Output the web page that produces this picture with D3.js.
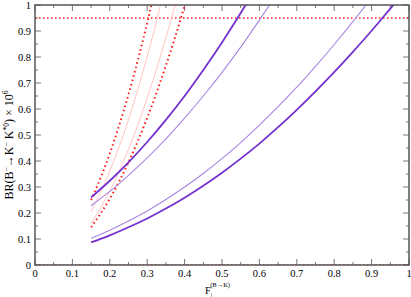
<!DOCTYPE html>
<html>
<head>
<meta charset="utf-8">
<script src="https://cdn.jsdelivr.net/npm/d3@7"></script>
<style>
  body { margin: 0; background: #fff; }
</style>
</head>
<body>
<svg width="411" height="297" font-family="'Liberation Serif', 'Times New Roman', Times, serif"></svg>
<script>
// curves: F values and BR values (x 10^6)
const fThickA = [0.15, 0.2, 0.25, 0.3, 0.35, 0.4, 0.45, 0.5, 0.55, 0.57];
const brThickA = [0.26, 0.324, 0.395, 0.473, 0.558, 0.650, 0.750, 0.856, 0.969, 1.016];

const fThinB = [0.15, 0.2, 0.25, 0.3, 0.35, 0.4, 0.45, 0.5, 0.55, 0.6, 0.64];
const brThinB = [0.228, 0.283, 0.345, 0.412, 0.485, 0.565, 0.650, 0.741, 0.838, 0.942, 1.028];

const fThickC = [0.15, 0.2, 0.25, 0.3, 0.35, 0.4, 0.45, 0.5, 0.55, 0.6, 0.65, 0.7, 0.75, 0.8, 0.85, 0.9, 0.95, 0.97];
const brThickC = [0.087, 0.114, 0.145, 0.179, 0.217, 0.259, 0.305, 0.355, 0.409, 0.467, 0.530, 0.597, 0.668, 0.742, 0.820, 0.901, 0.986, 1.02];

const fThinD = [0.15, 0.2, 0.25, 0.3, 0.35, 0.4, 0.45, 0.5, 0.55, 0.6, 0.65, 0.7, 0.75, 0.8, 0.85, 0.9];
const brThinD = [0.103, 0.134, 0.169, 0.208, 0.252, 0.300, 0.352, 0.409, 0.471, 0.538, 0.609, 0.684, 0.764, 0.848, 0.936, 1.028];

const fDotL = [0.15, 0.175, 0.2, 0.225, 0.25, 0.275, 0.3, 0.315];
const brDotL = [0.25, 0.334, 0.429, 0.537, 0.656, 0.788, 0.931, 1.023];

const fDotR = [0.15, 0.2, 0.25, 0.3, 0.35, 0.4, 0.41];
const brDotR = [0.145, 0.255, 0.395, 0.566, 0.767, 0.998, 1.049];

const fPinkL = [0.15, 0.2, 0.25, 0.3, 0.335, 0.345];
const brPinkL = [0.205, 0.361, 0.559, 0.802, 0.997, 1.057];

const fPinkR = [0.15, 0.2, 0.25, 0.3, 0.35, 0.375, 0.385];
const brPinkR = [0.16, 0.285, 0.445, 0.642, 0.874, 1.003, 1.058];

const xTicks = [0, 0.1, 0.2, 0.3, 0.4, 0.5, 0.6, 0.7, 0.8, 0.9, 1];
const yTicks = [0, 0.1, 0.2, 0.3, 0.4, 0.5, 0.6, 0.7, 0.8, 0.9, 1];
const xMinor = [0.05, 0.15, 0.25, 0.35, 0.45, 0.55, 0.65, 0.75, 0.85, 0.95];
const limitBR = [0.95, 0];

const svg = d3.select("svg"),
    margin = {left: 35, right: 2, top: 5, bottom: 32},
    width = +svg.attr("width") - margin.left - margin.right,
    height = +svg.attr("height") - margin.top - margin.bottom;

const x = d3.scaleLinear().domain([0, 1]).range([0, width]);
const y = d3.scaleLinear().domain([0, 1]).range([height, 0]);

const g = svg.append("g").attr("transform", `translate(${margin.left},${margin.top})`);

svg.append("defs").append("clipPath").attr("id", "clip")
    .append("rect").attr("width", width).attr("height", height);

const fmt = d => d === 0 || d === 1 ? String(d) : d3.format(".1f")(d);

// ticks on all four sides, pointing inward
const tickCol = "#777";
function drawTicks(vals, len) {
    g.append("g").selectAll("line").data(vals).join("line")
        .attr("x1", d => x(d)).attr("x2", d => x(d))
        .attr("y1", height).attr("y2", height - len)
        .attr("stroke", tickCol);
    g.append("g").selectAll("line").data(vals).join("line")
        .attr("x1", d => x(d)).attr("x2", d => x(d))
        .attr("y1", 0).attr("y2", len)
        .attr("stroke", tickCol);
    g.append("g").selectAll("line").data(vals).join("line")
        .attr("y1", d => y(d)).attr("y2", d => y(d))
        .attr("x1", 0).attr("x2", len)
        .attr("stroke", tickCol);
    g.append("g").selectAll("line").data(vals).join("line")
        .attr("y1", d => y(d)).attr("y2", d => y(d))
        .attr("x1", width).attr("x2", width - len)
        .attr("stroke", tickCol);
}
drawTicks(xTicks, 6);
drawTicks(xMinor, 3);

// tick labels
g.append("g").selectAll("text").data(xTicks).join("text")
    .attr("x", d => x(d)).attr("y", height + 12)
    .attr("text-anchor", "middle").attr("font-size", 10.5)
    .text(fmt);
g.append("g").selectAll("text").data(yTicks).join("text")
    .attr("x", -4).attr("y", d => y(d) + 3.5)
    .attr("text-anchor", "end").attr("font-size", 10.5)
    .text(fmt);

const line = d3.line()
    .x(d => x(d[0])).y(d => y(d[1]))
    .curve(d3.curveMonotoneX);

const plot = g.append("g").attr("clip-path", "url(#clip)");

// red dotted limits
plot.selectAll(".limit").data(limitBR).join("line")
    .attr("x1", 0).attr("x2", width)
    .attr("y1", d => y(d)).attr("y2", d => y(d))
    .attr("stroke", "#ff2020").attr("stroke-width", 1.5)
    .attr("stroke-dasharray", "1.5,2.5");

const series = [
    {f: fPinkL, br: brPinkL, color: "#ffc4c4", w: 1, dash: null},
    {f: fPinkR, br: brPinkR, color: "#ffc4c4", w: 1, dash: null},
    {f: fDotL, br: brDotL, color: "#ff1a1a", w: 2, dash: "1.5,3"},
    {f: fDotR, br: brDotR, color: "#ff1a1a", w: 2, dash: "1.5,3"},
    {f: fThinB, br: brThinB, color: "#a886e2", w: 1.1, dash: null},
    {f: fThinD, br: brThinD, color: "#a886e2", w: 1.1, dash: null},
    {f: fThickA, br: brThickA, color: "#7431cf", w: 1.8, dash: null},
    {f: fThickC, br: brThickC, color: "#7431cf", w: 1.8, dash: null}
];

series.forEach(s => {
    plot.append("path")
        .datum(d3.zip(s.f, s.br))
        .attr("d", line)
        .attr("fill", "none")
        .attr("stroke", s.color)
        .attr("stroke-width", s.w)
        .attr("stroke-dasharray", s.dash);
});

// frame
g.append("rect").attr("width", width).attr("height", height)
    .attr("fill", "none").attr("stroke", "#555").attr("stroke-width", 1.5);

// axis titles
const xt = svg.append("text")
    .attr("x", 205).attr("y", 294)
    .attr("font-size", 10.5);
xt.append("tspan").text("F");
xt.append("tspan").attr("font-size", 6.5).attr("dy", 3).text("|");
xt.append("tspan").attr("font-size", 6.5).attr("dy", -10).attr("dx", -2).text("(B\u2192K)");

const yt = svg.append("text")
    .attr("transform", `translate(13,145) rotate(-90)`)
    .attr("text-anchor", "middle")
    .attr("font-size", 12);
yt.append("tspan").text("BR(B");
yt.append("tspan").attr("font-size", 7.5).attr("dy", -4).text("\u2212");
yt.append("tspan").attr("dy", 4).text("\u2192K");
yt.append("tspan").attr("font-size", 7.5).attr("dy", -4).text("\u2212");
yt.append("tspan").attr("dy", 4).text(" K");
yt.append("tspan").attr("font-size", 7.5).attr("dy", -4).text("*0");
yt.append("tspan").attr("dy", 4).text(") \u00d7 10");
yt.append("tspan").attr("font-size", 7.5).attr("dy", -5).text("6");
</script>
</body>
</html>
